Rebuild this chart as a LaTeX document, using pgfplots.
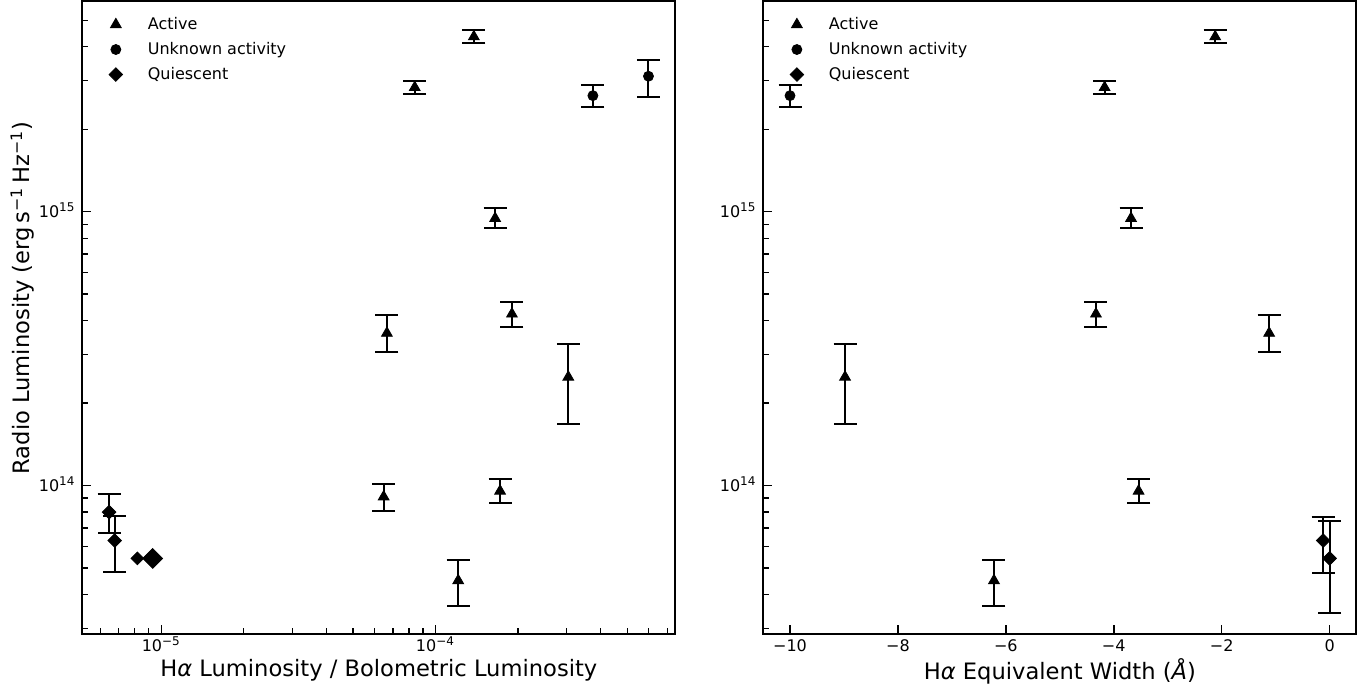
\documentclass[border=0pt]{standalone}
\usepackage{fontspec}
\setmainfont{DejaVu Sans}
\usepackage{pgfplots}
\pgfplotsset{compat=1.18}
\usepackage{pgfplotstable}

% left panel: Halpha / Lbol
\pgfplotstableread{
x y ep em
8.4e-5 2.84e15 1.6e14 1.6e14
1.38e-4 4.35e15 2.5e14 2.3e14
1.65e-4 9.45e14 8.5e13 7.5e13
1.90e-4 4.23e14 4.4e13 4.5e13
6.65e-5 3.60e14 6.0e13 5.4e13
3.05e-4 2.49e14 8.1e13 8.1e13
6.47e-5 9.10e13 1.0e13 1.0e13
1.72e-4 9.55e13 1.0e13 9.2e12
1.21e-4 4.50e13 8.7e12 8.6e12
}\activeL
\pgfplotstableread{
x y ep em
3.75e-4 2.65e15 2.5e14 2.5e14
5.98e-4 3.12e15 4.6e14 5.1e14
}\unknownL
\pgfplotstableread{
x y ep em
6.45e-6 8.0e13 1.33e13 1.3e13
6.76e-6 6.3e13 1.42e13 1.48e13
}\quiescentL

% right panel: equivalent width
\pgfplotstableread{
x y ep em
-4.17 2.84e15 1.6e14 1.6e14
-2.12 4.35e15 2.5e14 2.3e14
-3.68 9.45e14 8.5e13 7.5e13
-4.33 4.23e14 4.4e13 4.5e13
-1.12 3.60e14 6.0e13 5.4e13
-8.98 2.49e14 8.1e13 8.1e13
-3.54 9.55e13 1.0e13 9.2e12
-6.22 4.50e13 8.7e12 8.6e12
}\activeR
\pgfplotstableread{
x y ep em
-10.0 2.65e15 2.5e14 2.5e14
}\unknownR
\pgfplotstableread{
x y ep em
-0.12 6.3e13 1.4e13 1.5e13
0.0 5.42e13 2.0e13 2.0e13
}\quiescentR

\pgfplotsset{
  every axis/.append style={
    scale only axis, width=296.5pt, height=316.1pt,
    axis line style={line width=1pt},
    tick align=inside, xtick pos=bottom, ytick pos=left,
    major tick length=4.5pt, minor tick length=2.7pt,
    major tick style={line width=0.8pt, black},
    minor tick style={line width=0.6pt, black},
    tick label style={font=\fontsize{8}{9.6}\selectfont, inner sep=0pt},
    yticklabel style={anchor=base east, xshift=-3.2pt, yshift=-2.9pt},
    xticklabel style={anchor=base, yshift=-8.75pt},
    label style={font=\fontsize{11.3}{13.5}\selectfont},
    xlabel style={at={(axis description cs:0.5,0)}, anchor=base, yshift=-21.5pt},
    ylabel style={at={(axis description cs:-0.0882,0.531)}, anchor=base},
    legend style={draw=none, fill=none, at={(axis description cs:0.0283,0.976)},
      anchor=north west, font=\fontsize{8}{9.6}\selectfont, row sep=5pt,
      inner sep=0pt, nodes={inner sep=0pt, text height=6pt, text depth=1.5pt}},
    legend cell align=left,
  },
}

\begin{document}
\begin{tikzpicture}
\useasboundingbox (-41.15pt,-27.65pt) rectangle (644.35pt,316.85pt);

\begin{axis}[at={(0pt,0pt)}, anchor=south west,
  ymode=log, ymin=2.88e13, ymax=5.85e15,
  ytick={1e14,1e15},
  yticklabels={10\textsuperscript{14},10\textsuperscript{15}},
  minor ytick={3e13,4e13,5e13,6e13,7e13,8e13,9e13,2e14,3e14,4e14,5e14,6e14,7e14,8e14,9e14,2e15,3e15,4e15,5e15},
  xmode=log, xmin=5.15e-6, xmax=7.49e-4,
  xtick={1e-5,1e-4},
  xticklabels={10\textsuperscript{−5},10\textsuperscript{−4}},
  minor xtick={6e-6,7e-6,8e-6,9e-6,2e-5,3e-5,4e-5,5e-5,6e-5,7e-5,8e-5,9e-5,2e-4,3e-4,4e-4,5e-4,6e-4,7e-4},
  xlabel={H\textit{α} Luminosity / Bolometric Luminosity},
  ylabel={Radio Luminosity (erg\,s\textsuperscript{−1}\,Hz\textsuperscript{−1})},
  legend image code/.code={\path (-8pt,0pt) (15.8pt,0pt); \draw[#1] plot coordinates {(0pt,0pt)};}]
\addplot[only marks, black, mark=triangle*, mark size=3.1pt, mark options={fill=black},
  error bars/.cd, y dir=both, y explicit, error bar style={line width=1pt, black},
  error mark options={rotate=90, line width=1pt, mark size=5.75pt, black}]
  table[x=x, y=y, y error plus=ep, y error minus=em] {\activeL};
\addlegendentry{Active}
\addplot[only marks, black, mark=*, mark size=2.5pt, mark options={fill=black},
  error bars/.cd, y dir=both, y explicit, error bar style={line width=1pt, black},
  error mark options={rotate=90, line width=1pt, mark size=5.75pt, black}]
  table[x=x, y=y, y error plus=ep, y error minus=em] {\unknownL};
\addlegendentry{Unknown activity}
\addplot[only marks, black, mark=square*, mark size=2.4pt, mark options={rotate=45, fill=black},
  error bars/.cd, y dir=both, y explicit, error bar style={line width=1pt, black},
  error mark options={rotate=90, line width=1pt, mark size=5.75pt, black}]
  table[x=x, y=y, y error plus=ep, y error minus=em] {\quiescentL};
\addlegendentry{Quiescent}
\addplot[only marks, black, mark=square*, mark size=2.25pt, mark options={rotate=45, fill=black}, forget plot] coordinates {(8.18e-6,5.42e13)};
\addplot[only marks, black, mark=square*, mark size=3.5pt, mark options={rotate=45, fill=black}, forget plot] coordinates {(9.3e-6,5.42e13)};
\end{axis}

\begin{axis}[at={(340.5pt,0pt)}, anchor=south west,
  ymode=log, ymin=2.88e13, ymax=5.85e15,
  ytick={1e14,1e15},
  yticklabels={10\textsuperscript{14},10\textsuperscript{15}},
  minor ytick={3e13,4e13,5e13,6e13,7e13,8e13,9e13,2e14,3e14,4e14,5e14,6e14,7e14,8e14,9e14,2e15,3e15,4e15,5e15},
  xmin=-10.495, xmax=0.495,
  xtick={-10,-8,-6,-4,-2,0},
  xticklabels={−10,−8,−6,−4,−2,0},
  xlabel style={yshift=-1.6pt},
  xlabel={H\textit{α} Equivalent Width (\textit{Å})},
  legend image code/.code={\path (-8pt,0pt) (15.8pt,0pt); \draw[#1] plot coordinates {(0pt,0pt)};}]
\addplot[only marks, black, mark=triangle*, mark size=3.1pt, mark options={fill=black},
  error bars/.cd, y dir=both, y explicit, error bar style={line width=1pt, black},
  error mark options={rotate=90, line width=1pt, mark size=5.75pt, black}]
  table[x=x, y=y, y error plus=ep, y error minus=em] {\activeR};
\addlegendentry{Active}
\addplot[only marks, black, mark=*, mark size=2.5pt, mark options={fill=black},
  error bars/.cd, y dir=both, y explicit, error bar style={line width=1pt, black},
  error mark options={rotate=90, line width=1pt, mark size=5.75pt, black}]
  table[x=x, y=y, y error plus=ep, y error minus=em] {\unknownR};
\addlegendentry{Unknown activity}
\addplot[only marks, black, mark=square*, mark size=2.4pt, mark options={rotate=45, fill=black},
  error bars/.cd, y dir=both, y explicit, error bar style={line width=1pt, black},
  error mark options={rotate=90, line width=1pt, mark size=5.75pt, black}]
  table[x=x, y=y, y error plus=ep, y error minus=em] {\quiescentR};
\addlegendentry{Quiescent}
\end{axis}
\end{tikzpicture}
\end{document}
